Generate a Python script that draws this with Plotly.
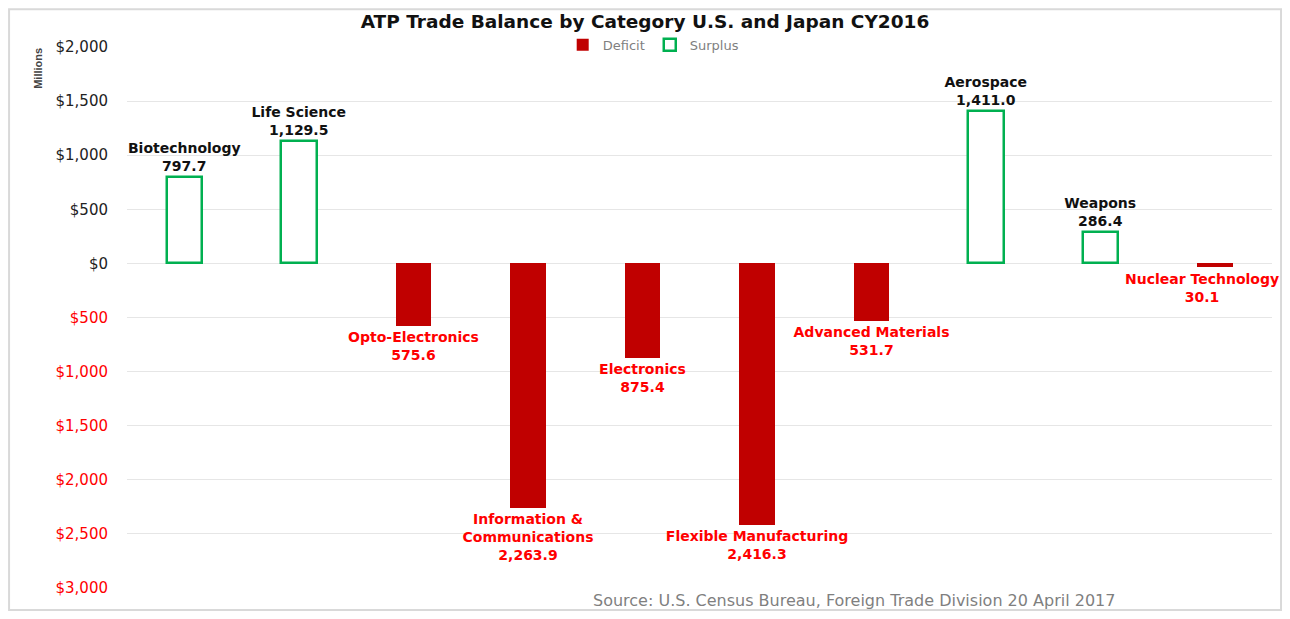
import plotly.graph_objects as go

# Data
categories = ['Biotechnology', 'Life Science', 'Opto-Electronics', 'Information & Communications',
              'Electronics', 'Flexible Manufacturing', 'Advanced Materials', 'Aerospace',
              'Weapons', 'Nuclear Technology']
label_names = ['Biotechnology', 'Life Science', 'Opto-Electronics', 'Information &<br>Communications',
               'Electronics', 'Flexible Manufacturing', 'Advanced Materials', 'Aerospace',
               'Weapons', 'Nuclear Technology']
balance = [797.7, 1129.5, -575.6, -2263.9, -875.4, -2416.3, -531.7, 1411.0, 286.4, -30.1]
tick_vals = [2000, 1500, 1000, 500, 0, -500, -1000, -1500, -2000, -2500, -3000]
tick_text = ['$2,000', '$1,500', '$1,000', '$500', '$0', '$500', '$1,000', '$1,500',
             '$2,000', '$2,500', '$3,000']

deficit = [v if v < 0 else None for v in balance]
surplus = [v if v > 0 else None for v in balance]
deficit_text = [f'{n}<br>{abs(v):,.1f}' if v < 0 else '' for n, v in zip(label_names, balance)]
surplus_text = [f'{n}<br>{v:,.1f}' if v > 0 else '' for n, v in zip(label_names, balance)]

# last label sits at the right edge, drawn as an annotation nudged left
edge_text = deficit_text[-1]
deficit_text[-1] = ''

# colour the negative tick labels red
tick_labels = [t if v >= 0 else f'<span style="color:#FF0000">{t}</span>'
               for v, t in zip(tick_vals, tick_text)]

red_font = dict(family='DejaVu Sans', size=14, color='#FF0000', weight='bold')

fig = go.Figure()
fig.add_trace(go.Bar(
    x=categories, y=deficit, name='Deficit', width=0.31,
    marker=dict(color='#C00000', line=dict(width=0)),
    text=deficit_text, textposition='outside', cliponaxis=False, constraintext='none',
    textfont=red_font,
))
fig.add_trace(go.Bar(
    x=categories, y=surplus, name='Surplus', width=0.31,
    marker=dict(color='white', line=dict(color='#00B050', width=2.5)),
    text=surplus_text, textposition='outside', cliponaxis=False, constraintext='none',
    textfont=dict(family='DejaVu Sans', size=14, color='#111111', weight='bold'),
))

fig.update_layout(
    width=1274, height=603,
    barmode='overlay',
    plot_bgcolor='white', paper_bgcolor='white',
    margin=dict(l=119, r=10, t=39, b=23),
    title=dict(text='<b>ATP Trade Balance by Category U.S. and Japan CY2016</b>',
               x=0.5, xref='container', y=0.978, yanchor='middle',
               font=dict(family='DejaVu Sans', size=18.5, color='#111111')),
    legend=dict(orientation='h', x=0.46, xanchor='center', y=1.004, yanchor='middle',
                font=dict(family='DejaVu Sans', size=13, color='#7F7F7F'),
                bgcolor='white', itemwidth=30),
    xaxis=dict(range=[-0.5, len(categories) - 0.5], showticklabels=False, showgrid=False,
               showline=False, ticks=''),
    yaxis=dict(range=[-3000, 2000], tickvals=tick_vals, ticktext=tick_labels,
               tickfont=dict(family='DejaVu Sans', size=15, color='#222222'),
               gridcolor='#E6E6E6', gridwidth=1, zeroline=True, zerolinecolor='#E6E6E6',
               zerolinewidth=1, showline=False, ticks='', ticklabelstandoff=18),
    bargap=0.0,
    annotations=[
        dict(text=edge_text, x=categories[-1], y=balance[-1], xref='x', yref='y',
             xanchor='center', yanchor='top', xshift=-13, yshift=-2, showarrow=False,
             font=red_font),
        dict(text='<b>Millions</b>', xref='paper', yref='paper', x=-0.078, y=0.961,
             xanchor='center', yanchor='middle', textangle=-90, showarrow=False,
             font=dict(family='Liberation Sans', size=11, color='#444444')),
        dict(text='Source: U.S. Census Bureau, Foreign Trade Division 20 April 2017',
             xref='paper', yref='paper', x=0.635, y=-0.024, xanchor='center', yanchor='middle',
             showarrow=False, font=dict(family='DejaVu Sans', size=16, color='#7F7F7F')),
    ],
    shapes=[
        dict(type='rect', xref='paper', yref='paper', x0=-0.103, x1=1.0079, y0=-0.0407, y1=1.07,
             line=dict(color='#D9D9D9', width=2), fillcolor='rgba(0,0,0,0)', layer='below'),
    ],
)

fig.write_html('out.html')
